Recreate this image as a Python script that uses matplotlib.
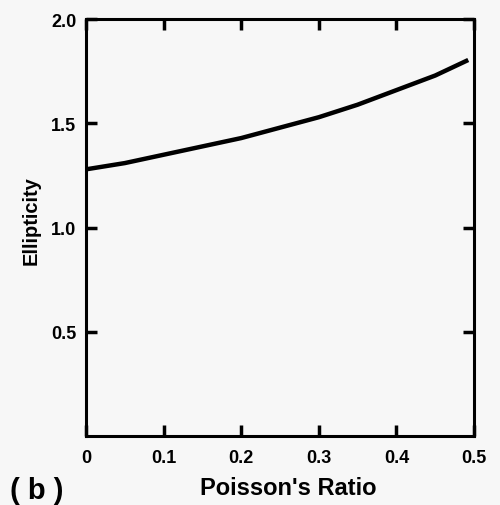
import matplotlib.pyplot as plt
import numpy as np

poisson = [0.0, 0.05, 0.1, 0.15, 0.2, 0.25, 0.3, 0.35, 0.4, 0.45, 0.49]
ellipticity = [1.28, 1.31, 1.35, 1.39, 1.43, 1.48, 1.53, 1.59, 1.66, 1.73, 1.80]

x_ticks = [0, 0.1, 0.2, 0.3, 0.4, 0.5]
x_labels = ['0', '0.1', '0.2', '0.3', '0.4', '0.5']
y_ticks = [0.5, 1.0, 1.5, 2.0]
y_labels = ['0.5', '1.0', '1.5', '2.0']

plt.rcParams['font.family'] = ['Liberation Sans', 'DejaVu Sans']
plt.rcParams['font.weight'] = 'bold'

fig = plt.figure(figsize=(5, 5.06), dpi=100, facecolor='#f7f7f7')
ax = fig.add_axes([0.172, 0.136, 0.776, 0.824])
ax.set_facecolor('#f7f7f7')

ax.plot(poisson, ellipticity, color='black', linewidth=3.2)

ax.set_xlim(0, 0.5)
ax.set_ylim(0, 2.0)
ax.set_xticks(x_ticks)
ax.set_xticklabels(x_labels)
ax.set_yticks(y_ticks)
ax.set_yticklabels(y_labels)
ax.tick_params(direction='in', length=8, width=2.5, top=True, right=True,
               labelsize=13)
ax.tick_params(axis='x', pad=9)
ax.tick_params(axis='y', pad=7)
for lab in ax.get_xticklabels() + ax.get_yticklabels():
    lab.set_fontweight('bold')
for s in ax.spines.values():
    s.set_linewidth(2.2)

ax.set_xlabel("Poisson's Ratio", fontsize=17, fontweight='bold')
ax.xaxis.set_label_coords(0.52, -0.096)
ax.set_ylabel('Ellipticity', fontsize=14.5, fontweight='bold')
ax.yaxis.set_label_coords(-0.118, 0.52)

fig.text(0.02, 0.014, '( b )', fontsize=21, fontweight='bold')

fig.savefig('out.png', dpi=100, facecolor=fig.get_facecolor())
